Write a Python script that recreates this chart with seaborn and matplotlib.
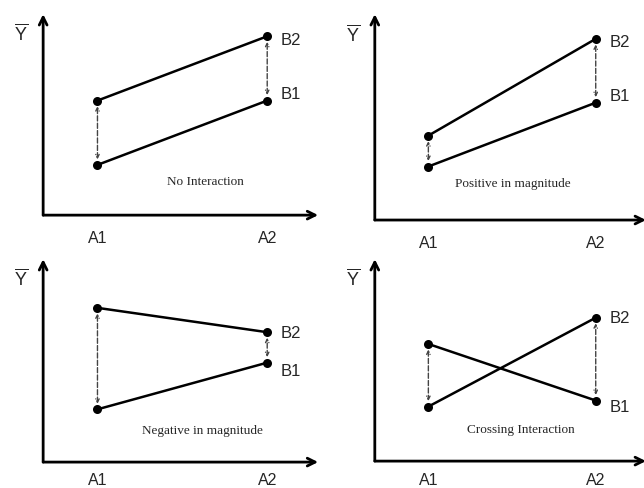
import pandas as pd
import matplotlib.pyplot as plt
import seaborn as sns

# Levels of factor A and B
a_levels = ["A1", "A2"]
b_levels = ["B1", "B2"]

# Mean Y for B1 / B2 at A1, A2 (0-10 scale)
titles = ["No Interaction", "Positive in magnitude",
          "Negative in magnitude", "Crossing Interaction"]
b1_values = [[2.5, 5.7], [2.6, 5.7], [2.6, 4.9], [5.8, 3.0]]
b2_values = [[5.7, 8.9], [4.1, 8.8], [7.6, 6.4], [2.7, 7.1]]

sns.set_style("white")
plt.rcParams["font.family"] = ["Liberation Sans", "DejaVu Sans"]
plt.rcParams["mathtext.fontset"] = "custom"
plt.rcParams["mathtext.rm"] = "Liberation Sans"

fig = plt.figure(figsize=(6.44, 4.89), dpi=100)

# Panel rectangles in figure fraction (left, bottom, width, height)
rects = [
    [0.067, 0.558, 0.427, 0.411],
    [0.582, 0.548, 0.421, 0.421],
    [0.067, 0.053, 0.427, 0.415],
    [0.582, 0.055, 0.421, 0.413],
]
# where the caption sits in each panel (axes fraction)
title_pos = [(0.59, 0.17), (0.51, 0.18), (0.58, 0.16), (0.54, 0.16)]
# small vertical nudges of the B1 / B2 labels (points)
b1_nudge = [5, 5, -6, -4]
b2_nudge = [-2, -2, 0, 0]
# tick label distance below the x axis (points)
tick_pad = [11, 11, 7.5, 7.5]

for i, rect in enumerate(rects):
    ax = fig.add_axes(rect)
    df = pd.DataFrame({
        "A": [1, 2, 1, 2],
        "Y": b1_values[i] + b2_values[i],
        "B": [b_levels[0]] * 2 + [b_levels[1]] * 2,
    })
    sns.lineplot(data=df, x="A", y="Y", hue="B", palette=["black", "black"],
                 marker="o", markersize=6.5, markeredgewidth=0, linewidth=1.8,
                 legend=False, ax=ax)

    ax.set_xlim(0.68, 2.30)
    ax.set_ylim(0, 10)
    ax.set_xticks([1, 2])
    ax.set_xticklabels(a_levels, fontsize=11.5)
    ax.tick_params(axis="x", length=0, pad=tick_pad[i])
    ax.set_yticks([])
    ax.set_xlabel("")
    ax.set_ylabel("")
    for s in ax.spines.values():
        s.set_visible(False)

    # axes drawn as arrows
    ax.annotate("", xy=(1.0, 0), xytext=(0, 0), xycoords="axes fraction",
                arrowprops=dict(arrowstyle="->", lw=2, color="black",
                                mutation_scale=14, shrinkA=0, shrinkB=0),
                annotation_clip=False)
    ax.annotate("", xy=(0, 1.0), xytext=(0, 0), xycoords="axes fraction",
                arrowprops=dict(arrowstyle="->", lw=2, color="black",
                                mutation_scale=14, shrinkA=0, shrinkB=0),
                annotation_clip=False)
    ax.text(-0.08, 0.905, r"$\overline{\rm Y}$", transform=ax.transAxes,
            ha="center", va="center", fontsize=13)

    # dashed double arrows between B1 and B2 at each level of A
    for j, x in enumerate([1, 2]):
        ax.annotate("", xy=(x, b2_values[i][j]), xytext=(x, b1_values[i][j]),
                    arrowprops=dict(arrowstyle="<->", lw=1.0, ls="--",
                                    color="#444444", mutation_scale=6,
                                    shrinkA=4, shrinkB=4))

    # B labels at A2
    ax.annotate(b_levels[0], xy=(2, b1_values[i][1]), xytext=(10, b1_nudge[i]),
                textcoords="offset points", ha="left", va="center", fontsize=12)
    ax.annotate(b_levels[1], xy=(2, b2_values[i][1]), xytext=(10, b2_nudge[i]),
                textcoords="offset points", ha="left", va="center", fontsize=12)

    ax.text(title_pos[i][0], title_pos[i][1], titles[i], transform=ax.transAxes,
            ha="center", va="center", fontsize=9.5, family="Liberation Serif")

fig.savefig("out.png", dpi=100)
